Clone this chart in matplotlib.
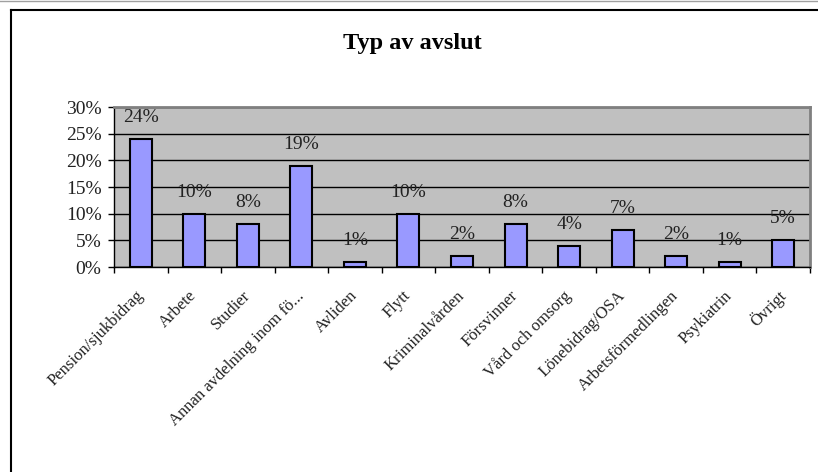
import matplotlib
matplotlib.use("agg")
import matplotlib.pyplot as plt
from matplotlib.lines import Line2D
from matplotlib.ticker import FixedLocator, PercentFormatter

categories = [
    "Pension/sjukbidrag", "Arbete", "Studier", "Annan avdelning inom fö...",
    "Avliden", "Flytt", "Kriminalvården", "Försvinner", "Vård och omsorg",
    "Lönebidrag/OSA", "Arbetsförmedlingen", "Psykiatrin", "Övrigt",
]
shares = [24, 10, 8, 19, 1, 10, 2, 8, 4, 7, 2, 1, 5]
y_ticks = [0, 5, 10, 15, 20, 25, 30]

plt.rcParams["font.family"] = ["Liberation Serif", "DejaVu Serif"]

fig = plt.figure(figsize=(8.18, 4.72), dpi=100)
ax = fig.add_axes([114 / 818, 1 - 267 / 472, 696 / 818, 160 / 472])
ax.set_facecolor("#C0C0C0")

x = list(range(len(categories)))
ax.bar(x, shares, width=0.41, color="#9999FF", edgecolor="black",
       linewidth=1.5, zorder=3)
for xi, v in zip(x, shares):
    ax.annotate(f"{v}%", (xi, v), xytext=(0, 15.5), textcoords="offset points",
                ha="center", va="center", fontsize=14, color="#222222",
                zorder=4)

ax.set_xlim(-0.5, len(categories) - 0.5)
ax.set_ylim(0, 30)
ax.set_yticks(y_ticks)
ax.yaxis.set_major_formatter(PercentFormatter(decimals=0))
ax.yaxis.grid(True, color="black", linewidth=1, zorder=1)
ax.set_axisbelow(True)

ax.set_xticks(x)
ax.set_xticklabels(categories, rotation=45, ha="right", va="center",
                   rotation_mode="anchor", fontsize=12, color="#222222")
ax.xaxis.set_minor_locator(FixedLocator([i - 0.5 for i in range(len(categories) + 1)]))
ax.tick_params(axis="x", which="major", length=0, pad=19)
ax.tick_params(axis="x", which="minor", length=4, width=1, direction="out")
ax.tick_params(axis="y", length=4, width=1, direction="out", pad=5,
               labelsize=14, labelcolor="#222222")

for side in ("top", "right"):
    ax.spines[side].set_color("#808080")
    ax.spines[side].set_linewidth(2)
for side in ("left", "bottom"):
    ax.spines[side].set_color("black")
    ax.spines[side].set_linewidth(1)

fig.text(412 / 818, 1 - 44 / 472, "Typ av avslut", ha="center", va="center",
         fontsize=17.5, fontweight="bold")

# chart frame (left and top edges visible)
fig.add_artist(Line2D([11 / 818, 11 / 818], [0, 1 - 10 / 472],
                      transform=fig.transFigure, color="black", linewidth=1.5))
fig.add_artist(Line2D([11 / 818, 1], [1 - 10 / 472, 1 - 10 / 472],
                      transform=fig.transFigure, color="black", linewidth=1.5))
fig.add_artist(Line2D([0, 1], [1 - 0.5 / 472, 1 - 0.5 / 472],
                      transform=fig.transFigure, color="#A0A0A0", linewidth=1))

fig.savefig("out.png", dpi=100)
